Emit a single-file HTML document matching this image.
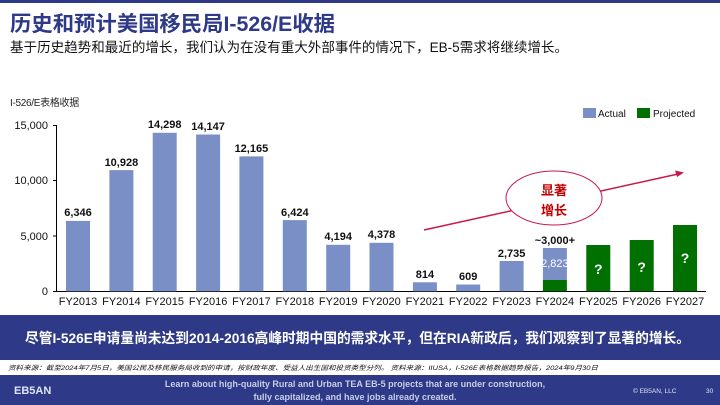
<!DOCTYPE html>
<html><head><meta charset="utf-8"><style>
html,body{margin:0;padding:0;background:#fff}
body{width:720px;height:405px;overflow:hidden;position:relative;font-family:"Liberation Sans","Noto Sans CJK SC",sans-serif}
</style></head><body>
<svg width="720" height="405" viewBox="0 0 720 405" xmlns="http://www.w3.org/2000/svg" style="position:absolute;left:0;top:0;font-family:'Liberation Sans','Noto Sans CJK SC',sans-serif">
<rect x="0" y="0" width="720" height="3" fill="#2E3A87"/>
<text x="10" y="31" font-size="21" font-weight="bold" fill="#2E3A87" textLength="325" lengthAdjust="spacingAndGlyphs">历史和预计美国移民局I-526/E收据</text>
<text x="10" y="52" font-size="13.5" fill="#111" textLength="558" lengthAdjust="spacingAndGlyphs">基于历史趋势和最近的增长，我们认为在没有重大外部事件的情况下，EB-5需求将继续增长。</text>
<text x="10" y="106" font-size="10" fill="#222" letter-spacing="-0.3">I-526/E表格收据</text>
<!-- legend -->
<rect x="583" y="108" width="13" height="10" fill="#7B8FC7"/>
<text x="598" y="117" font-size="10" fill="#111">Actual</text>
<rect x="637" y="108" width="13" height="10" fill="#007000"/>
<text x="653" y="117" font-size="10" fill="#111">Projected</text>
<!-- axes -->
<g font-size="11" fill="#111" text-anchor="end">
<text x="48" y="129">15,000</text>
<text x="48" y="184">10,000</text>
<text x="48" y="240">5,000</text>
<text x="48" y="295">0</text>
</g>
<g stroke="#000" stroke-width="1">
<line x1="56.5" y1="125" x2="56.5" y2="291"/>
<line x1="53" y1="125.5" x2="56.5" y2="125.5"/>
<line x1="53" y1="180.5" x2="56.5" y2="180.5"/>
<line x1="53" y1="236" x2="56.5" y2="236"/>
<line x1="53" y1="291.5" x2="56.5" y2="291.5"/>
<line x1="56" y1="291.5" x2="706" y2="291.5"/>
</g>
<!-- bars -->
<g fill="#7B8FC7">
<rect x="66" y="220.9" width="24" height="70.4"/>
<rect x="109.4" y="170.1" width="24" height="121.2"/>
<rect x="152.7" y="132.8" width="24" height="158.5"/>
<rect x="196.1" y="134.5" width="24" height="156.8"/>
<rect x="239.4" y="156.4" width="24" height="134.9"/>
<rect x="282.8" y="220.1" width="24" height="71.2"/>
<rect x="326.2" y="244.8" width="24" height="46.5"/>
<rect x="369.5" y="242.8" width="24" height="48.5"/>
<rect x="412.9" y="282.3" width="24" height="9"/>
<rect x="456.2" y="284.5" width="24" height="6.8"/>
<rect x="499.6" y="261" width="24" height="30.3"/>
<rect x="542.9" y="248" width="24" height="32"/>
</g>
<g fill="#007000">
<rect x="542.9" y="280" width="24" height="11.3"/>
<rect x="586.3" y="245" width="24" height="46.3"/>
<rect x="629.7" y="240" width="24" height="51.3"/>
<rect x="673" y="225" width="24" height="66.3"/>
</g>
<!-- value labels -->
<g font-size="11" font-weight="bold" fill="#111" text-anchor="middle">
<text x="78" y="216">6,346</text>
<text x="121.4" y="166">10,928</text>
<text x="164.7" y="128">14,298</text>
<text x="208.1" y="130">14,147</text>
<text x="251.4" y="152">12,165</text>
<text x="294.8" y="216">6,424</text>
<text x="338.2" y="240">4,194</text>
<text x="381.5" y="238">4,378</text>
<text x="424.9" y="278">814</text>
<text x="468.2" y="280">609</text>
<text x="511.6" y="257">2,735</text>
<text x="554.9" y="244">~3,000+</text>
</g>
<text x="554.9" y="267" font-size="11" fill="#fff" text-anchor="middle">2,823</text>
<g font-size="14" font-weight="bold" fill="#fff" text-anchor="middle">
<text x="598.3" y="274">?</text>
<text x="641.7" y="272">?</text>
<text x="685" y="263">?</text>
</g>
<!-- x labels -->
<g font-size="11" fill="#111" text-anchor="middle">
<text x="78" y="305">FY2013</text>
<text x="121.4" y="305">FY2014</text>
<text x="164.7" y="305">FY2015</text>
<text x="208.1" y="305">FY2016</text>
<text x="251.4" y="305">FY2017</text>
<text x="294.8" y="305">FY2018</text>
<text x="338.2" y="305">FY2019</text>
<text x="381.5" y="305">FY2020</text>
<text x="424.9" y="305">FY2021</text>
<text x="468.2" y="305">FY2022</text>
<text x="511.6" y="305">FY2023</text>
<text x="554.9" y="305">FY2024</text>
<text x="598.3" y="305">FY2025</text>
<text x="641.7" y="305">FY2026</text>
<text x="685" y="305">FY2027</text>
</g>
<!-- arrow -->
<line x1="424" y1="230" x2="678" y2="174" stroke="#C8184A" stroke-width="1.5"/>
<polygon points="684,172.5 675,170.5 677,177" fill="#C8184A"/>
<ellipse cx="554" cy="198" rx="48" ry="27" fill="#fff" stroke="#C8184A" stroke-width="1"/>
<text x="554" y="195" font-size="13" font-weight="bold" fill="#C00000" text-anchor="middle">显著</text>
<text x="554" y="215" font-size="13" font-weight="bold" fill="#C00000" text-anchor="middle">增长</text>
<!-- banner -->
<rect x="0" y="315" width="720" height="45" fill="#2E3A87"/>
<text x="25" y="343" font-size="14" font-weight="bold" fill="#fff" textLength="665" lengthAdjust="spacingAndGlyphs">尽管I-526E申请量尚未达到2014-2016高峰时期中国的需求水平，但在RIA新政后，我们观察到了显著的增长。</text>
<text x="8" y="370" font-size="6.5" font-style="italic" fill="#111" textLength="590" lengthAdjust="spacingAndGlyphs">资料来源：截至2024年7月5日，美国公民及移民服务局收到的申请，按财政年度、受益人出生国和投资类型分列。 资料来源：IIUSA，I-526E表格数据趋势报告，2024年9月30日</text>
<rect x="0" y="375" width="720" height="30" fill="#2E3A87"/>
<text x="14" y="394" font-size="11" font-weight="bold" fill="#dfe3f3">EB5AN</text>
<text x="355" y="387" font-size="9" font-weight="bold" fill="#c8cde6" text-anchor="middle">Learn about high-quality Rural and Urban TEA EB-5 projects that are under construction,</text>
<text x="355" y="400" font-size="9" font-weight="bold" fill="#c8cde6" text-anchor="middle">fully capitalized, and have jobs already created.</text>
<text x="633" y="393" font-size="6.5" fill="#dfe3f3">© EB5AN, LLC</text>
<text x="706" y="393" font-size="6.5" fill="#dfe3f3">30</text>
</svg>
</body></html>
